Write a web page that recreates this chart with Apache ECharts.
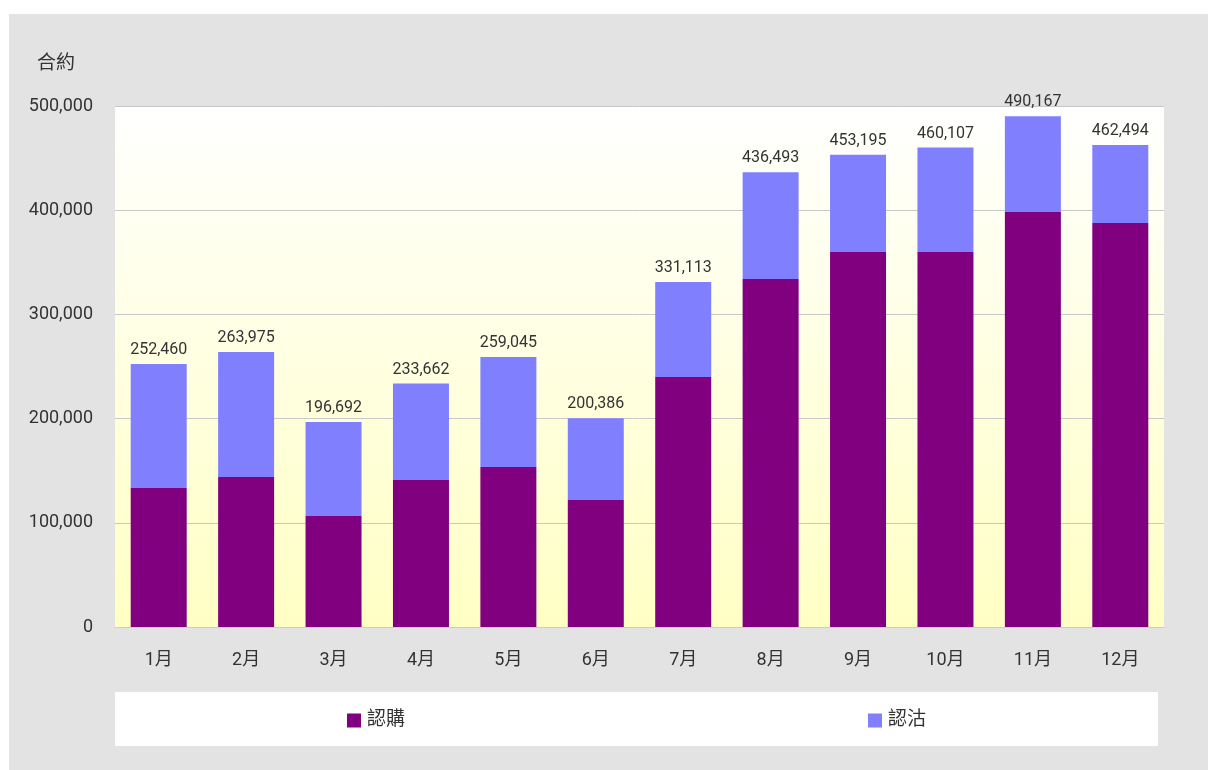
<!DOCTYPE html>
<html>
<head>
<meta charset="utf-8">
<script src="https://cdn.jsdelivr.net/npm/echarts@6/dist/echarts.min.js"></script>
<style>
  html, body { margin: 0; padding: 0; background: #fff; }
  .wrap { position: relative; width: 1208px; height: 770px; }
  .panel { position: absolute; left: 9px; top: 14px; right: 0; bottom: 0; background: #e3e3e3; }
  #chart { position: absolute; left: 0; top: 0; width: 1208px; height: 770px; }
</style>
</head>
<body>
<div class="wrap">
  <div class="panel"></div>
  <div id="chart"></div>
</div>
<script>
const months = ["1月", "2月", "3月", "4月", "5月", "6月", "7月", "8月", "9月", "10月", "11月", "12月"];
const buyValues = [133400, 144000, 106500, 141100, 153600, 121900, 239900, 334000, 359900, 360000, 398300, 387700];
const sellValues = [119060, 119975, 90192, 92562, 105445, 78486, 91213, 102493, 93295, 100107, 91867, 74794];
const totalLabels = ["252,460", "263,975", "196,692", "233,662", "259,045", "200,386", "331,113", "436,493", "453,195", "460,107", "490,167", "462,494"];

const fontFamily = 'Roboto, "Noto Sans CJK TC", sans-serif';
const textColor = "#333";

let myChart = echarts.init(document.getElementById("chart"), null, { renderer: "canvas" });
let option = {
  animation: false,
  textStyle: { fontFamily: fontFamily },
  graphic: [
    {
      type: "rect",
      left: 115,
      top: 692,
      shape: { width: 1043, height: 54 },
      style: { fill: "#ffffff" },
      silent: true
    }
  ],
  legend: [
    {
      data: ["認購"],
      left: 347,
      top: 711,
      padding: 0,
      itemWidth: 14,
      itemHeight: 14,
      icon: "rect",
      textStyle: { color: textColor, fontSize: 19, fontFamily: fontFamily, padding: [0, 0, 0, 1] }
    },
    {
      data: ["認沽"],
      left: 868,
      top: 711,
      padding: 0,
      itemWidth: 14,
      itemHeight: 14,
      icon: "rect",
      textStyle: { color: textColor, fontSize: 19, fontFamily: fontFamily, padding: [0, 0, 0, 1] }
    }
  ],
  grid: {
    left: 115,
    right: 44,
    top: 106,
    bottom: 143,
    show: true,
    borderWidth: 0,
    backgroundColor: new echarts.graphic.LinearGradient(0, 0, 0, 1, [
      { offset: 0, color: "#ffffff" },
      { offset: 1, color: "#ffffc4" }
    ])
  },
  xAxis: {
    type: "category",
    data: months,
    axisTick: { show: false },
    axisLine: { lineStyle: { color: "#cccccc", width: 1 } },
    axisLabel: { color: textColor, fontSize: 18, margin: 25, fontFamily: fontFamily }
  },
  yAxis: {
    type: "value",
    min: 0,
    max: 500000,
    interval: 100000,
    name: "合約",
    nameLocation: "end",
    nameGap: 32,
    nameTextStyle: { color: textColor, fontSize: 19, align: "right", padding: [0, 40, 0, 0], fontFamily: fontFamily },
    axisLine: { show: false },
    axisTick: { show: false },
    splitLine: { lineStyle: { color: "#c8c8c8", width: 1 } },
    axisLabel: {
      color: textColor,
      fontSize: 18,
      margin: 22,
      fontFamily: fontFamily,
      formatter: function (v) {
        return v.toLocaleString("en-US");
      }
    }
  },
  series: [
    {
      name: "認購",
      type: "bar",
      stack: "total",
      barWidth: 56,
      itemStyle: { color: "#800080" },
      data: buyValues
    },
    {
      name: "認沽",
      type: "bar",
      stack: "total",
      barWidth: 56,
      itemStyle: { color: "#8080ff" },
      label: {
        show: true,
        position: "top",
        distance: 6,
        color: textColor,
        fontSize: 16,
        fontFamily: fontFamily,
        formatter: function (p) {
          return totalLabels[p.dataIndex];
        }
      },
      data: sellValues
    }
  ]
};
myChart.setOption(option);
</script>
</body>
</html>
